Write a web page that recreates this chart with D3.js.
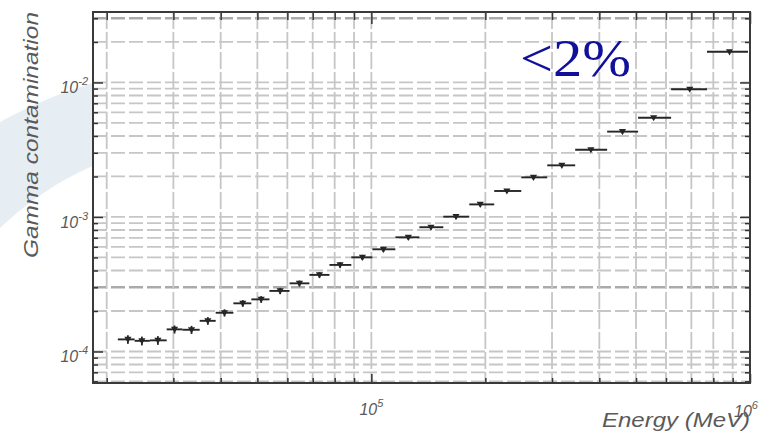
<!DOCTYPE html>
<html>
<head>
<meta charset="utf-8">
<script src="https://cdn.jsdelivr.net/npm/d3@7"></script>
<style>
  html, body { margin: 0; padding: 0; background: #ffffff; }
  svg { display: block; }
  .lbl { font-family: "Liberation Sans", Arial, Helvetica, sans-serif; font-style: italic; fill: #5a5a5a; }
</style>
</head>
<body>
<svg id="chart" width="773" height="437"></svg>
<script>
// Energy bin edges (MeV) and bin centres
const binEdges = [21400, 23700, 26000, 28800, 31700, 35200, 38800, 43200, 48200, 53800,
  60800, 68600, 77500, 88500, 100600, 115700, 133900, 154900, 181400, 211100,
  248800, 291400, 345400, 419500, 506300, 618900, 769900, 987900];
const energy = [22750, 24770, 27300, 30210, 33500, 36990, 40940, 45750, 51170, 57430,
  64570, 72930, 82670, 94690, 107600, 125200, 143700, 167300, 193900, 228000,
  268000, 318500, 380000, 460400, 556500, 693200, 883000];
// Gamma contamination per bin and its statistical error
const contamination = [1.23e-4, 1.20e-4, 1.21e-4, 1.46e-4, 1.45e-4, 1.69e-4, 1.94e-4, 2.28e-4, 2.44e-4, 2.82e-4,
  3.21e-4, 3.71e-4, 4.40e-4, 5.01e-4, 5.75e-4, 7.06e-4, 8.39e-4, 1.005e-3, 1.24e-3, 1.56e-3,
  1.97e-3, 2.42e-3, 3.16e-3, 4.31e-3, 5.47e-3, 8.9e-3, 1.69e-2];
const contaminationErr = [9e-6, 9e-6, 9e-6, 1e-5, 1e-5, 1.1e-5, 1.2e-5, 1.3e-5, 1.4e-5, 1.5e-5,
  1.6e-5, 1.8e-5, 2e-5, 2.2e-5, 2.4e-5, 2.8e-5, 3.2e-5, 3.6e-5, 4.2e-5, 5e-5,
  6e-5, 7e-5, 8.5e-5, 1.1e-4, 1.4e-4, 2e-4, 3.5e-4];

// Axis ticks
const xMajorTicks = [1e5, 1e6];
const xMinorTicks = [2e4, 3e4, 4e4, 5e4, 6e4, 7e4, 8e4, 9e4, 2e5, 3e5, 4e5, 5e5, 6e5, 7e5, 8e5, 9e5];
const yMajorTicks = [1e-4, 1e-3, 1e-2];
const yMinorTicks = [6e-5, 7e-5, 8e-5, 9e-5, 2e-4, 3e-4, 4e-4, 5e-4, 6e-4, 7e-4, 8e-4, 9e-4,
  2e-3, 3e-3, 4e-3, 5e-3, 6e-3, 7e-3, 8e-3, 9e-3, 2e-2, 3e-2];
const xTickLabels = [{ v: 1e5, base: "10", exp: "5" }, { v: 1e6, base: "10", exp: "6" }];
const yTickLabels = [{ v: 1e-2, base: "10", exp: "-2" }, { v: 1e-3, base: "10", exp: "-3" }, { v: 1e-4, base: "10", exp: "-4" }];
const emphasisedY = [3e-4, 3e-2];

const plot = { left: 93, right: 750, top: 12, bottom: 383 };
const svg = d3.select("#chart");

// soft background swoosh
svg.append("path")
  .attr("d", "M0,122 C30,106 60,92 110,78 L110,160 C70,172 30,200 0,228 Z")
  .attr("fill", "#e7eef3");

const x = d3.scaleLog().domain([18400, 1e6]).range([plot.left, plot.right]);
const y = d3.scaleLog().domain([5.83e-5, 3.34e-2]).range([plot.bottom, plot.top]);

svg.append("rect")
  .attr("x", plot.left).attr("y", plot.top)
  .attr("width", plot.right - plot.left).attr("height", plot.bottom - plot.top)
  .attr("fill", "#fff");

// dashed grid
const grid = svg.append("g");
grid.selectAll("line.h")
  .data(yMajorTicks.concat(yMinorTicks))
  .join("line")
  .attr("x1", plot.left).attr("x2", plot.right)
  .attr("y1", d => y(d)).attr("y2", d => y(d))
  .attr("stroke", d => emphasisedY.includes(d) ? "#aaa" : "#c6c6c6")
  .attr("stroke-width", d => emphasisedY.includes(d) ? 2.6 : 1.8)
  .attr("stroke-dasharray", "14,4");
grid.selectAll("line.v")
  .data(xMajorTicks.concat(xMinorTicks).filter(d => d < 1e6))
  .join("line")
  .attr("y1", plot.top).attr("y2", plot.bottom)
  .attr("x1", d => x(d)).attr("x2", d => x(d))
  .attr("stroke", "#c6c6c6")
  .attr("stroke-width", 1.8)
  .attr("stroke-dasharray", "17,3");

// axes with inward ticks on all four sides
function addAxis(axisFn, scale, ticks, size, transform) {
  const g = svg.append("g").attr("transform", transform)
    .call(axisFn(scale).tickValues(ticks).tickSize(-size).tickFormat(""));
  g.select(".domain").remove();
  g.selectAll(".tick line").attr("stroke", "#333").attr("stroke-width", 1.5);
}
addAxis(d3.axisLeft, y, yMajorTicks, 10, `translate(${plot.left},0)`);
addAxis(d3.axisLeft, y, yMinorTicks, 5, `translate(${plot.left},0)`);
addAxis(d3.axisRight, y, yMajorTicks, 10, `translate(${plot.right},0)`);
addAxis(d3.axisRight, y, yMinorTicks, 5, `translate(${plot.right},0)`);
addAxis(d3.axisBottom, x, xMajorTicks, 9, `translate(0,${plot.bottom})`);
addAxis(d3.axisBottom, x, xMinorTicks, 5, `translate(0,${plot.bottom})`);
addAxis(d3.axisTop, x, xMajorTicks, 12, `translate(0,${plot.top})`);
addAxis(d3.axisTop, x, xMinorTicks, 8, `translate(0,${plot.top})`);

// frame
svg.append("rect")
  .attr("x", plot.left).attr("y", plot.top)
  .attr("width", plot.right - plot.left).attr("height", plot.bottom - plot.top)
  .attr("fill", "none").attr("stroke", "#3a3a3a").attr("stroke-width", 2);

// data: horizontal bin bars, vertical error bars, markers
const pts = energy.map((e, i) => ({
  e, lo: binEdges[i], hi: binEdges[i + 1], v: contamination[i], err: contaminationErr[i]
}));
const data = svg.append("g").attr("stroke", "#262626").attr("fill", "#262626");
data.selectAll("line.bin").data(pts).join("line")
  .attr("x1", d => x(d.lo)).attr("x2", d => x(d.hi))
  .attr("y1", d => y(d.v)).attr("y2", d => y(d.v))
  .attr("stroke-width", 1.9);
data.selectAll("line.err").data(pts).join("line")
  .attr("x1", d => x(d.e)).attr("x2", d => x(d.e))
  .attr("y1", d => y(d.v + d.err)).attr("y2", d => y(d.v - d.err))
  .attr("stroke-width", 1.8);
data.selectAll("path.mk").data(pts).join("path")
  .attr("d", d3.symbol().type(d3.symbolTriangle).size(22))
  .attr("transform", d => `translate(${x(d.e)},${y(d.v) - 0.5}) rotate(180)`)
  .attr("stroke", "none");

// tick labels
svg.selectAll("text.ylab").data(yTickLabels).join("text")
  .attr("class", "lbl")
  .attr("x", 88).attr("y", d => y(d.v) + 11)
  .attr("text-anchor", "end")
  .attr("font-size", 16)
  .each(function (d) {
    const t = d3.select(this);
    t.append("tspan").text(d.base);
    t.append("tspan").attr("font-size", 11).attr("dy", -8).text(d.exp);
  });
svg.selectAll("text.xlab").data(xTickLabels).join("text")
  .attr("class", "lbl")
  .attr("x", d => x(d.v) + (d.v === 1e6 ? -4 : 0)).attr("y", d => d.v === 1e6 ? 417 : 415)
  .attr("text-anchor", "middle")
  .attr("font-size", 16)
  .each(function (d) {
    const t = d3.select(this);
    t.append("tspan").text(d.base);
    t.append("tspan").attr("font-size", 11).attr("dy", -8).text(d.exp);
  });

// axis titles
svg.append("text").attr("class", "lbl")
  .attr("transform", "translate(38,135) rotate(-90)")
  .attr("text-anchor", "middle")
  .attr("font-size", 21)
  .attr("textLength", 246).attr("lengthAdjust", "spacingAndGlyphs")
  .text("Gamma contamination");
svg.append("text").attr("class", "lbl")
  .attr("x", 602).attr("y", 427)
  .attr("font-size", 20)
  .attr("textLength", 148).attr("lengthAdjust", "spacingAndGlyphs")
  .text("Energy (MeV)");

// annotation
svg.append("text")
  .attr("x", 520).attr("y", 76)
  .attr("font-family", "'Liberation Serif', 'Times New Roman', serif")
  .attr("font-size", 52)
  .attr("fill", "#10109a")
  .attr("textLength", 111).attr("lengthAdjust", "spacingAndGlyphs")
  .text("<2%");
</script>
</body>
</html>
